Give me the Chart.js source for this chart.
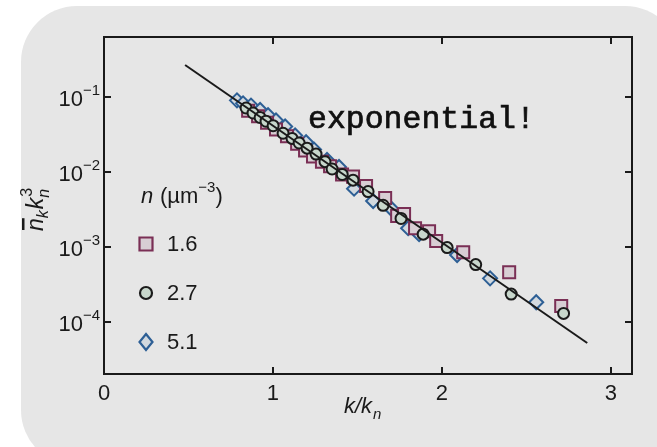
<!DOCTYPE html>
<html>
<head>
<meta charset="utf-8">
<script src="https://cdn.jsdelivr.net/npm/chart.js@4/dist/chart.umd.min.js"></script>
<style>
  body { margin: 0; background: #ffffff; }
  #wrap { width: 657px; height: 447px; }
</style>
</head>
<body>
<div id="wrap"><canvas id="Chart1" width="657" height="447"></canvas></div>
<script>
// n = 1.6 um^-3 (squares)
var x_16 = [0.853, 0.912, 0.965, 1.018, 1.083, 1.143, 1.19, 1.237, 1.29, 1.338, 1.409, 1.474, 1.551, 1.664, 1.735, 1.776, 1.841, 1.924, 1.966, 2.126, 2.398, 2.706];
var y_16 = [0.066, 0.056, 0.0457, 0.0372, 0.0302, 0.024, 0.0195, 0.0162, 0.0138, 0.012, 0.0093, 0.0087, 0.0065, 0.0045, 0.0026, 0.00275, 0.00178, 0.00162, 0.0012, 0.00085, 0.000457, 0.000162];
// n = 2.7 um^-3 (circles)
var x_27 = [0.841, 0.882, 0.924, 0.959, 1.001, 1.06, 1.113, 1.155, 1.202, 1.255, 1.308, 1.35, 1.41, 1.474, 1.563, 1.652, 1.758, 1.889, 2.031, 2.2, 2.41, 2.72];
var y_27 = [0.072, 0.0617, 0.0537, 0.0479, 0.0417, 0.0331, 0.0282, 0.0245, 0.0209, 0.0174, 0.0138, 0.011, 0.0093, 0.0078, 0.0055, 0.0036, 0.0024, 0.00148, 0.00098, 0.00058, 0.000234, 0.000129];
// n = 5.1 um^-3 (diamonds)
var x_51 = [0.787, 0.823, 0.87, 0.924, 0.971, 1.018, 1.072, 1.131, 1.196, 1.243, 1.32, 1.391, 1.48, 1.593, 1.705, 1.8, 1.865, 2.09, 2.285, 2.558];
var y_51 = [0.091, 0.083, 0.0776, 0.0676, 0.0575, 0.049, 0.0407, 0.0309, 0.0251, 0.02, 0.0145, 0.0117, 0.006, 0.0041, 0.00316, 0.00178, 0.00148, 0.00078, 0.00038, 0.000182];
// exponential fit
var x_fit = [0.48, 2.86];
var y_fit = [0.27, 0.000052];

var x_ticks = [0, 1, 2, 3];
var y_ticks = [1e-1, 1e-2, 1e-3, 1e-4];
var y_tick_exp = ['\u22121', '\u22122', '\u22123', '\u22124'];
var legend_labels = ['1.6', '2.7', '5.1'];

var FONT = '"Liberation Sans", Arial, sans-serif';
var C_SQ = '#7a2f55', F_SQ = '#d8ced4';
var C_CI = '#1b1b1b', F_CI = '#c8d7cc';
var C_DI = '#2d5f95', F_DI = '#d2d9df';

function toPts(xs, ys) {
    return xs.map(function (x, i) { return { x: x, y: ys[i] }; });
}

// legend markers
function marker(ctx, kind, x, y) {
    ctx.save();
    ctx.lineWidth = 2.2;
    ctx.beginPath();
    if (kind == 'rect') {
        ctx.rect(x - 6.5, y - 6.5, 13, 13);
        ctx.fillStyle = F_SQ; ctx.strokeStyle = C_SQ;
    } else if (kind == 'circle') {
        ctx.arc(x, y, 6, 0, Math.PI * 2);
        ctx.fillStyle = F_CI; ctx.strokeStyle = C_CI;
    } else {
        ctx.moveTo(x, y - 8); ctx.lineTo(x + 6.5, y); ctx.lineTo(x, y + 8); ctx.lineTo(x - 6.5, y); ctx.closePath();
        ctx.fillStyle = F_DI; ctx.strokeStyle = C_DI;
    }
    ctx.fill(); ctx.stroke();
    ctx.restore();
}

var bgPlugin = {
    id: 'bg',
    beforeDraw: function (chart) {
        var ctx = chart.ctx;
        ctx.save();
        ctx.fillStyle = '#ffffff';
        ctx.fillRect(0, 0, chart.width, chart.height);
        ctx.fillStyle = '#e6e6e6';
        ctx.beginPath();
        ctx.roundRect(21, 6, 660, 460, 56);
        ctx.fill();
        ctx.restore();
    }
};

var decoPlugin = {
    id: 'deco',
    afterDraw: function (chart) {
        var ctx = chart.ctx, a = chart.chartArea;
        var xs = chart.scales.x, ys = chart.scales.y;
        ctx.save();
        // frame
        ctx.strokeStyle = '#1a1a1a';
        ctx.lineWidth = 2;
        ctx.strokeRect(a.left, a.top, a.right - a.left, a.bottom - a.top);
        // inward ticks
        ctx.beginPath();
        x_ticks.forEach(function (t) {
            if (t == 0) return;
            var px = Math.round(xs.getPixelForValue(t));
            ctx.moveTo(px, a.bottom); ctx.lineTo(px, a.bottom - 7);
            ctx.moveTo(px, a.top); ctx.lineTo(px, a.top + 7);
        });
        y_ticks.forEach(function (t) {
            var py = Math.round(ys.getPixelForValue(t));
            ctx.moveTo(a.left, py); ctx.lineTo(a.left + 7, py);
            ctx.moveTo(a.right, py); ctx.lineTo(a.right - 7, py);
        });
        ctx.stroke();

        // tick labels
        ctx.fillStyle = '#1a1a1a';
        ctx.textBaseline = 'middle';
        ctx.textAlign = 'center';
        ctx.font = '22px ' + FONT;
        x_ticks.forEach(function (t) {
            ctx.fillText(String(t), xs.getPixelForValue(t), a.bottom + 20);
        });
        y_ticks.forEach(function (t, i) {
            var py = ys.getPixelForValue(t);
            ctx.font = '15px ' + FONT;
            ctx.textAlign = 'right';
            var ew = ctx.measureText(y_tick_exp[i]).width;
            ctx.fillText(y_tick_exp[i], a.left - 4, py - 6);
            ctx.font = '22px ' + FONT;
            ctx.fillText('10', a.left - 4 - ew, py + 3);
        });

        // x title k/k_n
        ctx.textAlign = 'left';
        ctx.textBaseline = 'alphabetic';
        ctx.font = 'italic 22px ' + FONT;
        var xt = 'k/k';
        var xw = ctx.measureText(xt).width;
        var x0 = 358 - xw / 2;
        ctx.fillText(xt, x0, 413);
        ctx.font = 'italic 15px ' + FONT;
        ctx.fillText('n', x0 + xw + 1, 419);

        // y title  n-bar_k k_n^3 (rotated)
        ctx.save();
        ctx.translate(43, 231);
        ctx.rotate(-Math.PI / 2);
        ctx.font = 'italic 23px ' + FONT;
        ctx.fillText('n', 0, 0);
        var u = ctx.measureText('n').width;
        ctx.fillRect(1, -21, u - 1, 2.5);
        ctx.font = 'italic 16px ' + FONT;
        ctx.fillText('k', u, 5);
        u += ctx.measureText('k').width + 1;
        ctx.font = 'italic 23px ' + FONT;
        ctx.fillText('k', u, 0);
        u += ctx.measureText('k').width;
        ctx.font = 'italic 16px ' + FONT;
        ctx.fillText('n', u, 6);
        ctx.font = '16px ' + FONT;
        ctx.fillText('3', u + 1, -11);
        ctx.restore();

        // legend
        ctx.textBaseline = 'middle';
        ctx.font = 'italic 22px ' + FONT;
        ctx.fillText('n', 141, 197);
        ctx.font = '22px ' + FONT;
        ctx.fillText('(\u00b5m', 160, 197);
        var lw = ctx.measureText('(\u00b5m').width;
        ctx.font = '15px ' + FONT;
        ctx.fillText('\u22123', 160 + lw, 188);
        var sw = ctx.measureText('\u22123').width;
        ctx.font = '22px ' + FONT;
        ctx.fillText(')', 160 + lw + sw, 197);
        var kinds = ['rect', 'circle', 'diamond'];
        var ly = [244, 293, 342];
        kinds.forEach(function (k, i) {
            marker(ctx, k, 146, ly[i]);
            ctx.fillStyle = '#1a1a1a';
            ctx.font = '22px ' + FONT;
            ctx.fillText(legend_labels[i], 167, ly[i] + 1);
        });

        // annotation
        ctx.textBaseline = 'alphabetic';
        ctx.font = '31.5px "Liberation Mono", monospace';
        ctx.strokeStyle = '#111111';
        ctx.lineWidth = 0.7;
        ctx.fillStyle = '#111111';
        ctx.fillText('exponential!', 308, 128);
        ctx.strokeText('exponential!', 308, 128);
        ctx.restore();
    }
};

var ctx = document.getElementById('Chart1').getContext('2d');
var myChart = new Chart(ctx, {
    type: 'scatter',
    data: {
        datasets: [{
            type: 'line',
            label: 'fit',
            data: toPts(x_fit, y_fit),
            borderColor: '#1a1a1a',
            borderWidth: 2,
            pointRadius: 0,
            fill: false
        }, {
            label: '2.7',
            data: toPts(x_27, y_27),
            pointStyle: 'circle',
            pointRadius: 5.5,
            borderWidth: 2,
            borderColor: C_CI,
            backgroundColor: F_CI
        }, {
            label: '1.6',
            data: toPts(x_16, y_16),
            pointStyle: 'rect',
            pointRadius: 8.5,
            borderWidth: 2,
            borderColor: C_SQ,
            backgroundColor: F_SQ
        }, {
            label: '5.1',
            data: toPts(x_51, y_51),
            pointStyle: 'rectRot',
            pointRadius: 7,
            borderWidth: 2,
            borderColor: C_DI,
            backgroundColor: F_DI
        }]
    },
    options: {
        responsive: false,
        devicePixelRatio: 1,
        animation: false,
        layout: { padding: { left: 104, right: 25, top: 37, bottom: 73 } },
        plugins: { legend: { display: false }, tooltip: { enabled: false } },
        scales: {
            x: { type: 'linear', display: false, min: 0, max: 3.125 },
            y: { type: 'logarithmic', display: false, min: 2e-5, max: 0.64 }
        }
    },
    plugins: [bgPlugin, decoPlugin]
});
</script>
</body>
</html>
